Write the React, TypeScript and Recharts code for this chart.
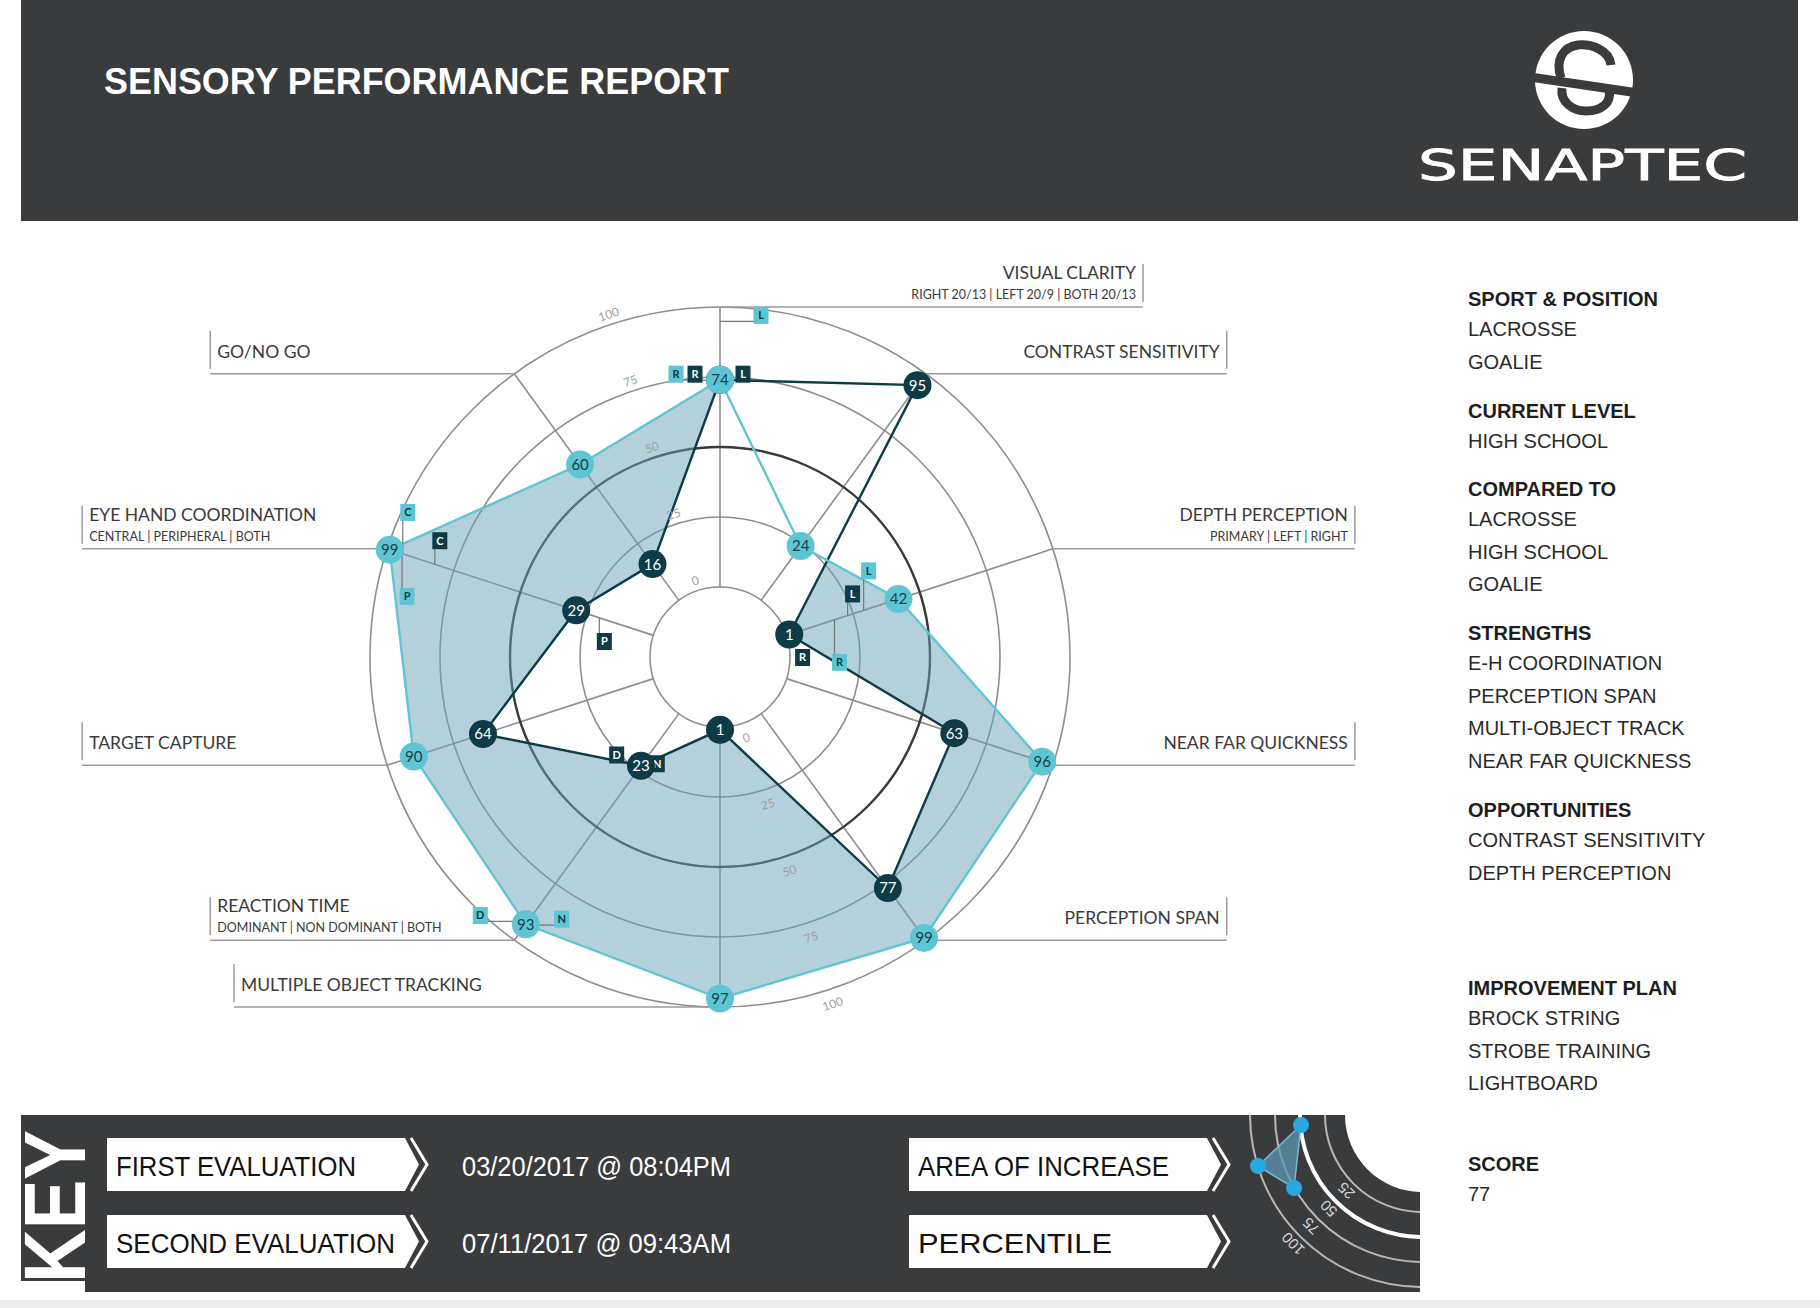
import React from "react";
import {
  RadarChart,
  Radar,
  PolarGrid,
  PolarAngleAxis,
  PolarRadiusAxis,
} from "recharts";

// ---- data ----
const categories = [
  "VISUAL CLARITY",
  "CONTRAST SENSITIVITY",
  "DEPTH PERCEPTION",
  "NEAR FAR QUICKNESS",
  "PERCEPTION SPAN",
  "MULTIPLE OBJECT TRACKING",
  "REACTION TIME",
  "TARGET CAPTURE",
  "EYE HAND COORDINATION",
  "GO/NO GO",
];
const subtitles = [
  "RIGHT 20/13 | LEFT 20/9 | BOTH 20/13",
  "",
  "PRIMARY | LEFT | RIGHT",
  "",
  "",
  "",
  "DOMINANT | NON DOMINANT | BOTH",
  "",
  "CENTRAL | PERIPHERAL | BOTH",
  "",
];
const firstEvaluation = [74, 95, 1, 63, 77, 1, 23, 64, 29, 16];
const secondEvaluation = [74, 24, 42, 96, 99, 97, 93, 90, 99, 60];
const percentileTicks = [0, 25, 50, 75, 100];

// sub-test markers, one value per axis (null = not shown)
const N = null;
const secondRight = [76, N, 15, N, N, N, N, N, N, N];
const secondLeft = [97, N, 35, N, N, N, N, N, N, N];
const secondCentral = [N, N, N, N, N, N, N, N, 97, N];
const secondPeripheral = [N, N, N, N, N, N, N, N, 88, N];
const secondDominant = [N, N, N, N, N, N, 100, N, N, N];
const secondNonDominant = [N, N, N, N, N, N, 84, N, N, N];
const firstRight = [76, N, 3, N, N, N, N, N, N, N];
const firstLeft = [76, N, 27, N, N, N, N, N, N, N];
const firstCentral = [N, N, N, N, N, N, N, N, 83, N];
const firstPeripheral = [N, N, N, N, N, N, N, N, 16, N];
const firstDominant = [N, N, N, N, N, N, 25, N, N, N];
const firstNonDominant = [N, N, N, N, N, N, 19, N, N, N];

const evaluations = ["FIRST EVALUATION", "SECOND EVALUATION"];
const evaluationDates = ["03/20/2017 @ 08:04PM", "07/11/2017 @ 09:43AM"];
const keyItems = ["AREA OF INCREASE", "PERCENTILE"];
const keyScale = ["25", "50", "75", "100"];

const profileHeadings = [
  "SPORT & POSITION",
  "CURRENT LEVEL",
  "COMPARED TO",
  "STRENGTHS",
  "OPPORTUNITIES",
  "IMPROVEMENT PLAN",
  "SCORE",
];
const profileItems = [
  ["LACROSSE", "GOALIE"],
  ["HIGH SCHOOL"],
  ["LACROSSE", "HIGH SCHOOL", "GOALIE"],
  ["E-H COORDINATION", "PERCEPTION SPAN", "MULTI-OBJECT TRACK", "NEAR FAR QUICKNESS"],
  ["CONTRAST SENSITIVITY", "DEPTH PERCEPTION"],
  ["BROCK STRING", "STROBE TRAINING", "LIGHTBOARD"],
  ["77"],
];

// ---- layout / style ----
const W = 1420;
const H = 880;
const CX = 720;
const CY = 435;
const INNER = 70;
const OUTER = 350;
const LIGHT = "#5fc5d4";
const DARK = "#0d3b46";
const GRID = "#8e8e8e";
const LABEL_FONT = "Lato, 'Open Sans', sans-serif";
const SANS = "'Liberation Sans', Arial, sans-serif";

// leader line from the ring to each label: side and reach (px)
const labelSide = [1, 1, 1, 1, 1, -1, -1, -1, -1, -1];
const labelReach = [423, 301, 302, 302, 301, 486, 304, 305, 305, 304];
const profileTop = [306, 418, 496, 640, 817, 995, 1171];

const rows = categories.map((name, i) => ({
  name,
  first: firstEvaluation[i],
  second: secondEvaluation[i],
  sR: secondRight[i],
  sL: secondLeft[i],
  sC: secondCentral[i],
  sP: secondPeripheral[i],
  sD: secondDominant[i],
  sN: secondNonDominant[i],
  fR: firstRight[i],
  fL: firstLeft[i],
  fC: firstCentral[i],
  fP: firstPeripheral[i],
  fD: firstDominant[i],
  fN: firstNonDominant[i],
}));

const markers = [
  { key: "sR", letter: "R", tone: "light" },
  { key: "sL", letter: "L", tone: "light" },
  { key: "sC", letter: "C", tone: "light" },
  { key: "sP", letter: "P", tone: "light" },
  { key: "sD", letter: "D", tone: "light" },
  { key: "sN", letter: "N", tone: "light" },
  { key: "fR", letter: "R", tone: "dark" },
  { key: "fL", letter: "L", tone: "dark" },
  { key: "fC", letter: "C", tone: "dark" },
  { key: "fP", letter: "P", tone: "dark" },
  { key: "fD", letter: "D", tone: "dark" },
  { key: "fN", letter: "N", tone: "dark" },
];
// sideways offset of each marker from its spoke (px, clockwise positive)
const markerShift: Record<string, Record<number, number>> = {
  sR: { 0: -44, 2: 42 },
  sL: { 0: 41, 2: -36 },
  sC: { 8: 41 },
  sP: { 8: -39 },
  sD: { 6: 42 },
  sN: { 6: -26 },
  fR: { 0: -25, 2: 26 },
  fL: { 0: 23, 2: -19 },
  fC: { 8: 24 },
  fP: { 8: -21 },
  fD: { 6: 26 },
  fN: { 6: -12 },
};
const noLeader = new Set(["fR0", "fL0", "fR2", "fD6", "fN6"]);

const RAD = Math.PI / 180;
const ringRadius = (v: number) => INNER + (v / 100) * (OUTER - INNER);

// ---- chart pieces ----
const MaskShape = (props: any) => {
  const pts = (props.points || []).map((p: any) => `${p.x},${p.y}`).join(" ");
  return (
    <defs>
      <mask id="firstMask" maskUnits="userSpaceOnUse" x={0} y={0} width={W} height={H}>
        <rect x={0} y={0} width={W} height={H} fill="white" />
        <polygon points={pts} fill="black" />
      </mask>
    </defs>
  );
};

const FillShape = (props: any) => {
  const pts = (props.points || []).map((p: any) => `${p.x},${p.y}`).join(" ");
  return <polygon points={pts} fill="#6aa3b8" fillOpacity={0.5} mask="url(#firstMask)" />;
};

const makeDot = (fill: string, textFill: string, tag: string) => (props: any) => {
  const { cx, cy, index } = props;
  const value = props.value ?? props.payload?.[tag === "fd" ? "first" : "second"];
  if (cx == null || !isFinite(cx)) return <g key={`${tag}-${index}`} />;
  return (
    <g key={`${tag}-${index}`}>
      <circle cx={cx} cy={cy} r={14} fill={fill} />
      <text
        x={cx}
        y={cy}
        dy="0.36em"
        textAnchor="middle"
        fontSize={15}
        fontFamily={LABEL_FONT}
        fill={textFill}
      >
        {value}
      </text>
    </g>
  );
};

const makeMarker = (m: { key: string; letter: string; tone: string }) => (props: any) => {
  const { cx: px, cy: py, index } = props;
  const id = `${m.key}${index}`;
  const raw = props.payload?.[m.key] ?? props.payload?.payload?.[m.key];
  if (raw == null || px == null || !isFinite(px) || !isFinite(py)) return <g key={id} />;
  if (Math.hypot(px - CX, py - CY) < 1) return <g key={id} />;
  // direction of the spoke this point sits on
  const a = Math.atan2(CY - py, px - CX);
  const ux = Math.cos(a);
  const uy = -Math.sin(a);
  const shift = markerShift[m.key]?.[index] ?? 0;
  const mx = px + shift * Math.sin(a);
  const my = py + shift * Math.cos(a);
  let leader = null;
  if (!noLeader.has(id)) {
    if (Math.abs(uy) >= Math.abs(ux)) {
      const xs = CX + ((my + 6 - CY) * ux) / uy;
      leader = <line x1={mx} y1={my + 6} x2={xs} y2={my + 6} stroke="#777" strokeWidth={1.2} />;
    } else {
      const ys = CY + ((mx - 5 - CX) * uy) / ux;
      leader = <line x1={mx - 5} y1={my} x2={mx - 5} y2={ys} stroke="#777" strokeWidth={1.2} />;
    }
  }
  const light = m.tone === "light";
  return (
    <g key={id}>
      {leader}
      <rect x={mx - 7.5} y={my - 8.5} width={15} height={17} fill={light ? LIGHT : DARK} />
      <text
        x={mx}
        y={my}
        dy="0.36em"
        textAnchor="middle"
        fontSize={11}
        fontWeight={700}
        fontFamily={LABEL_FONT}
        fill={light ? DARK : "#fff"}
      >
        {m.letter}
      </text>
    </g>
  );
};

const AngleTick = (props: any) => {
  const { payload } = props;
  const i = categories.indexOf(payload.value);
  if (i < 0) return <g />;
  const a = payload.coordinate * RAD;
  const px = CX + OUTER * Math.cos(a);
  const py = CY - OUTER * Math.sin(a);
  const side = labelSide[i];
  const ex = px + side * labelReach[i];
  const sub = subtitles[i];
  const tx = side > 0 ? ex - 7 : ex + 7;
  const anchor = side > 0 ? "end" : "start";
  return (
    <g>
      <line x1={px} y1={py} x2={ex} y2={py} stroke="#9a9a9a" strokeWidth={1.5} />
      <line x1={ex} y1={py - 43} x2={ex} y2={py - 5} stroke="#9a9a9a" strokeWidth={1.5} />
      <text
        x={tx}
        y={sub ? py - 28 : py - 16}
        textAnchor={anchor}
        fontSize={17.5}
        fontFamily={LABEL_FONT}
        fill="#3a3a3a"
      >
        {payload.value}
      </text>
      {sub ? (
        <text
          x={tx}
          y={py - 8}
          textAnchor={anchor}
          fontSize={12.5}
          fontFamily={LABEL_FONT}
          fill="#3a3a3a"
        >
          {sub}
        </text>
      ) : null}
    </g>
  );
};

const RadiusTick = (props: any) => {
  const { x, y, payload } = props;
  const mx = 2 * CX - x;
  const my = 2 * CY - y;
  const style = { fontSize: 12, fontFamily: LABEL_FONT, fill: "#a0a0a0" };
  return (
    <g>
      <text transform={`translate(${x},${y}) rotate(-18)`} y={-6} textAnchor="middle" {...style}>
        {payload.value}
      </text>
      <text transform={`translate(${mx},${my}) rotate(-18)`} y={19} textAnchor="middle" {...style}>
        {payload.value}
      </text>
    </g>
  );
};

function SensoryRadar() {
  return (
    <RadarChart
      width={W}
      height={H}
      data={rows}
      cx={CX}
      cy={CY}
      innerRadius={INNER}
      outerRadius={OUTER}
      margin={{ top: 0, right: 0, bottom: 0, left: 0 }}
    >
      <Radar dataKey="first" shape={MaskShape} dot={false} isAnimationActive={false} />
      <Radar dataKey="second" shape={FillShape} dot={false} isAnimationActive={false} />
      <PolarGrid gridType="circle" stroke={GRID} strokeWidth={1.6} />
      <PolarGrid
        gridType="circle"
        radialLines={false}
        polarRadius={[ringRadius(50)]}
        stroke="#3a3a3a"
        strokeWidth={2.4}
      />
      <PolarAngleAxis dataKey="name" tick={AngleTick} tickLine={false} axisLine={false} />
      <PolarRadiusAxis
        angle={108}
        domain={[0, 100]}
        tickCount={percentileTicks.length}
        tick={RadiusTick}
        axisLine={false}
        tickLine={false}
      />
      {markers.map((m) => (
        <Radar
          key={m.key}
          dataKey={m.key}
          shape={() => <g />}
          dot={makeMarker(m)}
          isAnimationActive={false}
        />
      ))}
      <Radar
        dataKey="first"
        stroke={DARK}
        strokeWidth={2.4}
        fill="none"
        dot={makeDot(DARK, "#ffffff", "fd")}
        isAnimationActive={false}
      />
      <Radar
        dataKey="second"
        stroke={LIGHT}
        strokeWidth={2.4}
        fill="none"
        dot={makeDot(LIGHT, "#17404a", "sd")}
        isAnimationActive={false}
      />
    </RadarChart>
  );
}

function ArrowBox({ x, y, label, width }: { x: number; y: number; label: string; width: number }) {
  const w = 298;
  const h = 53;
  return (
    <g>
      <polygon
        points={`${x},${y} ${x + w},${y} ${x + w + 14},${y + h / 2} ${x + w},${y + h} ${x},${y + h}`}
        fill="#fff"
      />
      <polyline
        points={`${x + w + 6},${y} ${x + w + 22},${y + h / 2} ${x + w + 6},${y + h}`}
        fill="none"
        stroke="#fff"
        strokeWidth={3}
      />
      <text
        x={x + 9}
        y={y + 38}
        fontSize={28}
        fontFamily={SANS}
        fill="#111"
        textLength={width}
        lengthAdjust="spacingAndGlyphs"
      >
        {label}
      </text>
    </g>
  );
}

function Page() {
  const labelWidths = [240, 279];
  const keyWidths = [251, 194];
  return (
    <svg width={1820} height={1308} style={{ position: "absolute", left: 0, top: 0 }}>
      {/* header */}
      <rect x={21} y={0} width={1777} height={221} fill="#3a3b3d" />
      <text
        x={104}
        y={94}
        fontSize={36}
        fontWeight={700}
        fontFamily={SANS}
        fill="#fff"
        textLength={625}
        lengthAdjust="spacingAndGlyphs"
      >
        SENSORY PERFORMANCE REPORT
      </text>
      <g transform="translate(1584,80)">
        <circle r={49} fill="#fff" />
        <line x1={-54} y1={-3} x2={54} y2={13} stroke="#3a3b3d" strokeWidth={9} />
        <path
          d="M 27 -15 C 25 -31, 6 -36, -6 -35 C -21 -33, -29 -20, -23 -2"
          fill="none"
          stroke="#3a3b3d"
          strokeWidth={9}
        />
        <path
          d="M -22 8 C -24 23, -10 31, 2 31 C 17 31, 28 23, 25 10"
          fill="none"
          stroke="#3a3b3d"
          strokeWidth={9}
        />
      </g>
      <text
        x={1418}
        y={180}
        fontSize={42}
        fontFamily="'DejaVu Sans', sans-serif"
        fill="#fff"
        stroke="#fff"
        strokeWidth={0.8}
        textLength={329}
        lengthAdjust="spacingAndGlyphs"
      >
        SENAPTEC
      </text>

      {/* profile panel */}
      {profileHeadings.map((hd, s) => (
        <g key={hd}>
          <text x={1468} y={profileTop[s]} fontSize={20} fontWeight={700} fontFamily={SANS} fill="#1e1e1e">
            {hd}
          </text>
          {profileItems[s].map((it, k) => (
            <text
              key={it + k}
              x={1468}
              y={profileTop[s] + 30 + k * 32.5}
              fontSize={20}
              fontFamily={SANS}
              fill="#2a2a2a"
            >
              {it}
            </text>
          ))}
        </g>
      ))}

      {/* key bar */}
      <defs>
        <clipPath id="keyClip">
          <rect x={21} y={1115} width={1399} height={177} />
        </clipPath>
      </defs>
      <rect x={21} y={1115} width={1399} height={177} fill="#3a3b3d" />
      <rect x={21} y={1281} width={64} height={12} fill="#fff" />
      <text
        transform="translate(85,1283) rotate(-90)"
        fontSize={88}
        fontWeight={700}
        fontFamily={SANS}
        fill="#fff"
        textLength={153}
        lengthAdjust="spacingAndGlyphs"
      >
        KEY
      </text>
      {evaluations.map((ev, i) => (
        <g key={ev}>
          <ArrowBox x={107} y={1138 + i * 77} label={ev} width={labelWidths[i]} />
          <text
            x={462}
            y={1176 + i * 77}
            fontSize={28}
            fontFamily={SANS}
            fill="#fff"
            textLength={269}
            lengthAdjust="spacingAndGlyphs"
          >
            {evaluationDates[i]}
          </text>
        </g>
      ))}
      {keyItems.map((k, i) => (
        <ArrowBox key={k} x={909} y={1138 + i * 77} label={k} width={keyWidths[i]} />
      ))}
      <g clipPath="url(#keyClip)">
        <circle cx={1422} cy={1115} r={77} fill="#fff" />
        <circle cx={1422} cy={1115} r={97} fill="none" stroke="#b8b8b8" strokeWidth={2} />
        <circle cx={1422} cy={1115} r={122} fill="none" stroke="#fff" strokeWidth={4} />
        <circle cx={1422} cy={1115} r={147} fill="none" stroke="#b8b8b8" strokeWidth={2} />
        <circle cx={1422} cy={1115} r={172} fill="none" stroke="#b8b8b8" strokeWidth={2} />
        <polygon
          points="1301,1125 1258,1166 1294,1188"
          fill="#5b9ab3"
          fillOpacity={0.75}
          stroke="#7fb8cc"
          strokeWidth={1.5}
        />
        <circle cx={1301} cy={1125} r={8} fill="#28a8e0" />
        <circle cx={1258} cy={1166} r={8} fill="#28a8e0" />
        <circle cx={1294} cy={1188} r={8} fill="#28a8e0" />
        {keyScale.map((t, i) => {
          const r = 97 + i * 25 + 10;
          const x = 1422 - r * Math.SQRT1_2;
          const y = 1115 + r * Math.SQRT1_2;
          return (
            <text
              key={t}
              transform={`translate(${x},${y}) rotate(-135)`}
              textAnchor="middle"
              dy="0.35em"
              fontSize={15}
              fontFamily={SANS}
              fill="#d8d8d8"
            >
              {t}
            </text>
          );
        })}
      </g>
      <rect x={0} y={1300} width={1820} height={8} fill="#ececec" />
    </svg>
  );
}

export default function App() {
  return (
    <div
      style={{
        position: "absolute",
        left: 0,
        top: 0,
        width: 1820,
        height: 1308,
        background: "#fff",
        overflow: "hidden",
        fontFamily: SANS,
      }}
    >
      <Page />
      <div style={{ position: "absolute", left: 0, top: 222 }}>
        <SensoryRadar />
      </div>
    </div>
  );
}
